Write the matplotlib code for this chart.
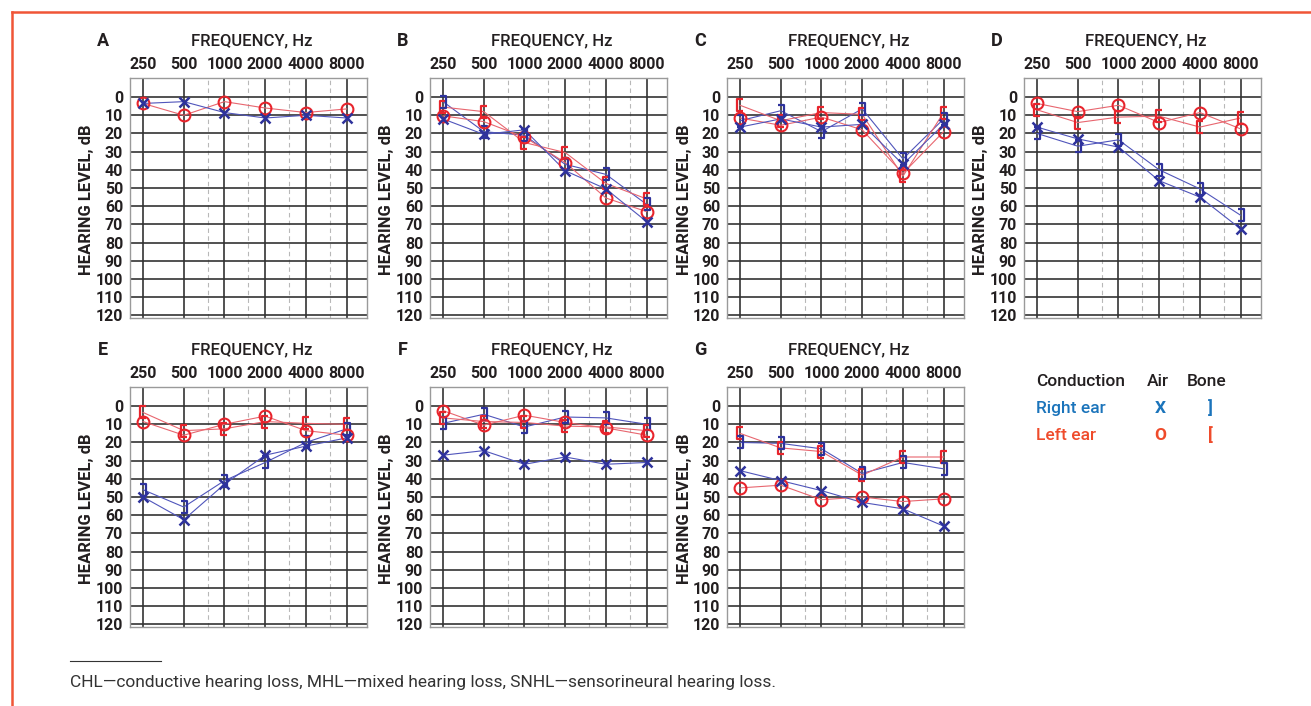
import numpy as np
import matplotlib
matplotlib.use("Agg")
import matplotlib.pyplot as plt
from matplotlib.path import Path
from matplotlib.lines import Line2D
from matplotlib.ticker import FixedLocator, NullFormatter

plt.rcParams['font.family'] = ['Roboto', 'DejaVu Sans']

# ---------------- data ----------------
freqs = [250, 500, 1000, 2000, 4000, 8000]
minor_freqs = [750, 1500, 3000, 6000]
db_ticks = [0, 10, 20, 30, 40, 50, 60, 70, 80, 90, 100, 110, 120]
panel_letters = ["A", "B", "C", "D", "E", "F", "G"]

A_right_air = [3.5, 2.5, 8.5, 11.5, 10, 11.5]
A_left_air = [3.5, 10, 2.5, 6, 8.5, 6.5]
A_right_bone = None
A_left_bone = None

B_right_air = [12, 20.5, 18, 40.5, 50.5, 68.5]
B_left_air = [10.3, 13.5, 22, 36, 55.5, 63]
B_right_bone = [2.5, 19, 21, 37, 42.5, 59]
B_left_bone = [5.5, 8, 25, 30.5, 47.5, 56]

C_right_air = [16.5, 12, 16.5, 15, 37, 15]
C_left_air = [11.5, 15.5, 11, 18, 42, 19]
C_right_bone = [13, 7.5, 19, 6.5, 34, 12]
C_left_bone = [4.5, 13, 8.5, 9.5, 43.5, 8.5]

D_right_air = [16.5, 23, 27.5, 46, 55, 72.5]
D_left_air = [3.5, 8, 4.5, 14, 8.5, 17.5]
D_right_bone = [20, 27, 23.5, 40, 50.5, 65]
D_left_bone = [7, 14, 11, 10.5, 16.5, 11.5]

E_right_air = [50, 62.5, 43, 27, 22, 17.5]
E_left_air = [8.5, 16, 10, 5.5, 13.5, 16]
E_right_bone = [46, 55.5, 41, 31, 20, 12.5]
E_left_bone = [3.5, 13.5, 12.5, 8.5, 9.5, 10]

F_right_air = [27, 24.5, 32, 28, 32, 31]
F_left_air = [2.5, 10.5, 5, 9, 12, 16]
F_right_bone = [9.5, 4.5, 11.5, 6, 6.5, 10]
F_left_bone = [6.5, 8.5, 9, 11, 11.5, 13.5]

G_right_air = [35.5, 41, 46.5, 53, 56.5, 66]
G_left_air = [45, 43.5, 51.5, 50, 52.5, 51]
G_right_bone = [20, 20.5, 23.5, 37, 31, 34.5]
G_left_bone = [15, 23, 25, 38, 28, 28]

panels = {
    "A": (A_right_air, A_left_air, A_right_bone, A_left_bone),
    "B": (B_right_air, B_left_air, B_right_bone, B_left_bone),
    "C": (C_right_air, C_left_air, C_right_bone, C_left_bone),
    "D": (D_right_air, D_left_air, D_right_bone, D_left_bone),
    "E": (E_right_air, E_left_air, E_right_bone, E_left_bone),
    "F": (F_right_air, F_left_air, F_right_bone, F_left_bone),
    "G": (G_right_air, G_left_air, G_right_bone, G_left_bone),
}

# ---------------- style ----------------
W, H = 1311, 706
fig = plt.figure(figsize=(W / 100, H / 100), dpi=100)
fig.patch.set_facecolor("white")

TXT = "#231f20"
BLUE_M = "#2e329c"
BLUE_L = "#5055bb"
RED_M = "#e8242c"
RED_L = "#e8666f"
LEG_BLUE = "#1b74bb"
LEG_RED = "#ef4b2b"
BORDER = "#f05537"

right_bracket = Path([(-0.45, 1), (0.45, 1), (0.45, -1), (-0.45, -1)],
                     [Path.MOVETO, Path.LINETO, Path.LINETO, Path.LINETO])
left_bracket = Path([(0.45, 1), (-0.45, 1), (-0.45, -1), (0.45, -1)],
                    [Path.MOVETO, Path.LINETO, Path.LINETO, Path.LINETO])

col_left = [130, 430, 727, 1024]
row_top = [78, 387]
AX_W, AX_H = 237, 240

positions = [(col_left[0], row_top[0]), (col_left[1], row_top[0]),
             (col_left[2], row_top[0]), (col_left[3], row_top[0]),
             (col_left[0], row_top[1]), (col_left[1], row_top[1]),
             (col_left[2], row_top[1])]


def px(x, y):
    return x / W, 1 - y / H


for letter, (lpx, tpx) in zip(panel_letters, positions):
    ax = fig.add_axes([lpx / W, 1 - (tpx + AX_H) / H, AX_W / W, AX_H / H])
    ax.set_xscale("log", base=2)
    ax.set_xlim(250 * 2 ** -0.32, 250 * 2 ** 5.5)
    ax.set_ylim(121.5, -10.5)
    ax.xaxis.set_major_locator(FixedLocator(freqs))
    ax.xaxis.set_minor_locator(FixedLocator(minor_freqs))
    ax.xaxis.set_minor_formatter(NullFormatter())
    ax.set_xticklabels([str(f) for f in freqs])
    ax.set_yticks(db_ticks)
    ax.set_yticklabels([str(d) for d in db_ticks])
    ax.yaxis.set_minor_locator(FixedLocator([]))
    ax.xaxis.tick_top()
    ax.tick_params(axis="both", which="both", length=0)
    ax.tick_params(axis="x", pad=4, labelsize=11.5, labelcolor=TXT)
    ax.tick_params(axis="y", pad=5, labelsize=11.5, labelcolor=TXT)
    for lab in ax.get_xticklabels() + ax.get_yticklabels():
        lab.set_fontweight("bold")
    ax.grid(True, which="major", axis="both", color="#333333", lw=1.2)
    ax.grid(True, which="minor", axis="x", color="#b8b8b8", lw=0.8, ls=(0, (4, 3)))
    ax.set_axisbelow(True)
    for sp in ax.spines.values():
        sp.set_color("#9a9a9a")
        sp.set_linewidth(1.0)

    r_air, l_air, r_bone, l_bone = panels[letter]
    # connecting lines
    if r_bone is not None:
        ax.plot(freqs, r_bone, color=BLUE_L, lw=0.8, zorder=3)
        ax.plot(freqs, l_bone, color=RED_L, lw=0.8, zorder=3)
    ax.plot(freqs, l_air, color=RED_L, lw=0.8, zorder=3)
    ax.plot(freqs, r_air, color=BLUE_L, lw=0.8, zorder=3)
    # markers
    if r_bone is not None:
        ax.plot(freqs, l_bone, ls="none", marker=left_bracket, ms=9,
                mec=RED_M, mfc="none", mew=1.6, zorder=4)
        ax.plot(freqs, r_bone, ls="none", marker=right_bracket, ms=9,
                mec=BLUE_M, mfc="none", mew=1.6, zorder=4)
    ax.plot(freqs, l_air, ls="none", marker="o", ms=8.5, mec=RED_M,
            mfc="none", mew=1.5, zorder=5)
    ax.plot(freqs, r_air, ls="none", marker="x", ms=7, mec=BLUE_M,
            mew=1.8, zorder=6)

    # titles and labels
    fig.text(*px(lpx + 122, tpx - 37), "FREQUENCY, Hz", ha="center", va="center",
             fontsize=12, fontweight="medium", color=TXT)
    fig.text(*px(lpx - 27, tpx - 37), letter, ha="center", va="center",
             fontsize=13, fontweight="bold", color=TXT)
    fig.text(*px(lpx - 43, tpx + AX_H / 2 + 2), "HEARING LEVEL, dB", ha="center",
             va="center", rotation=90, fontsize=12, fontweight="bold", color=TXT)

# ---------------- legend ----------------
fig.text(*px(1036, 381), "Conduction", ha="left", va="center", fontsize=12.5,
         fontweight="medium", color=TXT)
fig.text(*px(1158, 381), "Air", ha="center", va="center", fontsize=12.5,
         fontweight="medium", color=TXT)
fig.text(*px(1207, 381), "Bone", ha="center", va="center", fontsize=12.5,
         fontweight="medium", color=TXT)
fig.text(*px(1036, 409), "Right ear", ha="left", va="center", fontsize=12.5,
         fontweight="medium", color=LEG_BLUE)
fig.text(*px(1160, 409), "X", ha="center", va="center", fontsize=12.5,
         fontweight="bold", color=LEG_BLUE)
fig.text(*px(1210, 408), "]", ha="center", va="center", fontsize=12.5,
         fontweight="bold", color=LEG_BLUE)
fig.text(*px(1036, 436), "Left ear", ha="left", va="center", fontsize=12.5,
         fontweight="medium", color=LEG_RED)
fig.text(*px(1160, 436), "O", ha="center", va="center", fontsize=12.5,
         fontweight="bold", color=LEG_RED)
fig.text(*px(1210, 435), "[", ha="center", va="center", fontsize=12.5,
         fontweight="bold", color=LEG_RED)

# ---------------- border and footnote ----------------
fig.add_artist(Line2D([12 / W, 1], [1 - 12 / H, 1 - 12 / H], color=BORDER,
                      lw=1.8, transform=fig.transFigure))
fig.add_artist(Line2D([12 / W, 12 / W], [0, 1 - 12 / H], color=BORDER,
                      lw=1.8, transform=fig.transFigure))
fig.add_artist(Line2D([70 / W, 161 / W], [1 - 661 / H, 1 - 661 / H],
                      color="#333333", lw=0.8, transform=fig.transFigure))
fig.text(*px(70, 683), "CHL\u2014conductive hearing loss, MHL\u2014mixed hearing loss, "
         "SNHL\u2014sensorineural hearing loss.", ha="left", va="center",
         fontsize=12.5, fontweight="normal", color="#333333")

fig.savefig("out.png", dpi=100, facecolor="white")
